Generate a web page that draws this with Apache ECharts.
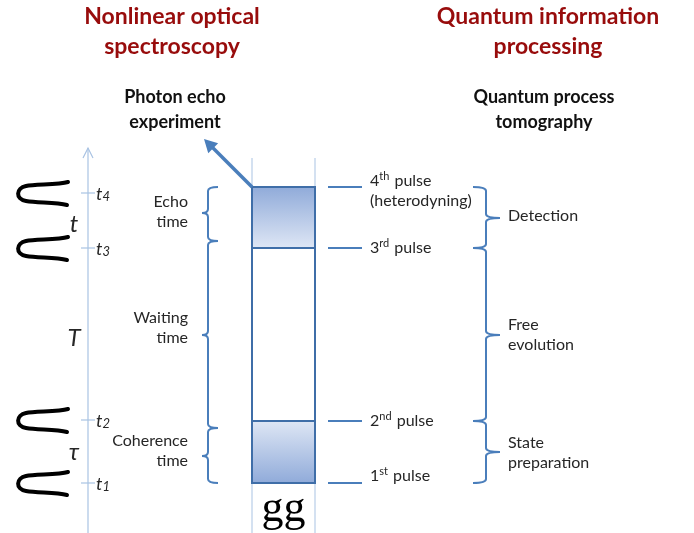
<!DOCTYPE html>
<html>
<head>
<meta charset="utf-8">
<script src="https://cdn.jsdelivr.net/npm/echarts@6/dist/echarts.min.js"></script>
<style>
  html, body { margin: 0; padding: 0; background: #fff; }
  #chart { width: 694px; height: 533px; }
</style>
</head>
<body>
<div id="chart"></div>
<script>
// diagram coordinates: x across the page, y = time running downwards
const pulseTimes = [483, 421, 248, 187];
const pulseLabels = ['1{sup|st} pulse', '2{sup|nd} pulse', '3{sup|rd} pulse', '4{sup|th} pulse\n(heterodyning)'];
const pulseLabelTimes = [476, 421, 248, 191];

// marks on the time axis
const markTimes = [483, 420, 248, 193];
const markLabels = ['t{sub|1}', 't{sub|2}', 't{sub|3}', 't{sub|4}'];

// delays between pulses
const delaySymbols = ['τ', 'T', 't'];
const delayTimes = [452, 338, 224];

// spectroscopy side braces
const echoFrom = [483, 428, 241];
const echoTo = [428, 241, 187];
const echoMid = [456, 335, 213];
const echoNames = ['Coherence\ntime', 'Waiting\ntime', 'Echo\ntime'];
const echoNameTimes = [451, 328, 212];

// quantum information side braces
const qipFrom = [483, 421, 248];
const qipTo = [421, 248, 187];
const qipMid = [452, 335, 218];
const qipNames = ['State\npreparation', 'Free\nevolution', 'Detection'];
const qipNameTimes = [453, 335, 216];

// shaded blocks of the sample column
const blockFrom = [421, 187];
const blockTo = [483, 248];

// headings
const headings = ['Nonlinear optical\nspectroscopy', 'Quantum information\nprocessing'];
const subHeadings = ['Photon echo\nexperiment', 'Quantum process\ntomography'];

const BLUE = '#4a7ebb';
const LIGHT = '#a9c3e3';
const SANS = 'Lato, "Open Sans", sans-serif';
const TXT = '#262626';

function bracePath(api, x, yA, yB, yM, dir, arm, tip) {
  const t = api.coord([x, Math.min(yA, yB)]);
  const b = api.coord([x, Math.max(yA, yB)]);
  const m = api.coord([x, yM]);
  const px = t[0], y1 = t[1], y2 = b[1], ym = m[1], r = 4;
  return 'M' + (px + dir * arm) + ',' + y1 + ' Q' + px + ',' + y1 + ' ' + px + ',' + (y1 + r) +
    ' L' + px + ',' + (ym - r) + ' Q' + px + ',' + ym + ' ' + (px - dir * tip) + ',' + ym +
    ' Q' + px + ',' + ym + ' ' + px + ',' + (ym + r) + ' L' + px + ',' + (y2 - r) +
    ' Q' + px + ',' + y2 + ' ' + (px + dir * arm) + ',' + y2;
}

function bodyText(p, text, align, extra) {
  return {
    type: 'text', x: p[0], y: p[1],
    style: Object.assign({
      text: text, fill: TXT, fontSize: 16, fontFamily: SANS, lineHeight: 20,
      align: align, verticalAlign: 'middle'
    }, extra || {})
  };
}

function headingText(x, y, text, size, color, lh) {
  return {
    type: 'text', x: x, y: y,
    style: { text: text, align: 'center', verticalAlign: 'middle', fill: color, fontSize: size, fontWeight: 'bold', fontFamily: SANS, lineHeight: lh }
  };
}

const chart = echarts.init(document.getElementById('chart'));

const option = {
  backgroundColor: '#fff',
  animation: false,
  grid: { left: 0, right: 0, top: 0, bottom: 0 },
  xAxis: { type: 'value', min: 0, max: 694, show: false },
  yAxis: { type: 'value', min: 0, max: 533, inverse: true, show: false },
  graphic: [
    headingText(172, 32, headings[0], 23, '#980c0c', 30),
    headingText(548, 32, headings[1], 23, '#980c0c', 30),
    headingText(175, 110, subHeadings[0], 18, '#111', 25),
    headingText(544, 110, subHeadings[1], 18, '#111', 25)
  ],
  series: [
    {
      // time axis with arrow
      type: 'custom', name: 'timeAxis', silent: true,
      data: [[88, 148]],
      renderItem: function (params, api) {
        const top = api.coord([api.value(0), api.value(1)]);
        const bot = api.coord([api.value(0), 533]);
        return {
          type: 'group', children: [
            { type: 'line', shape: { x1: top[0], y1: top[1], x2: bot[0], y2: bot[1] }, style: { stroke: LIGHT, lineWidth: 1.2 } },
            { type: 'polyline', shape: { points: [[top[0] - 5, top[1] + 10], top, [top[0] + 5, top[1] + 10]] }, style: { stroke: LIGHT, lineWidth: 1.2, fill: null } }
          ]
        };
      }
    },
    {
      // time marks, pulse glyphs
      type: 'custom', name: 'marks', silent: true,
      data: markTimes.map(function (t, i) { return [i, t]; }),
      renderItem: function (params, api) {
        const i = params.dataIndex;
        const p = api.coord([88, api.value(1)]);
        const y = p[1];
        const glyph = 'M68,' + (y - 11) + ' C58,' + (y - 8) + ' 35,' + (y - 9) + ' 26,' + (y - 7) +
          ' C16,' + (y - 5) + ' 15,' + (y + 6) + ' 26,' + (y + 8) +
          ' C38,' + (y + 10) + ' 56,' + (y + 9) + ' 67,' + (y + 12);
        return {
          type: 'group', children: [
            { type: 'line', shape: { x1: p[0] - 7, y1: y, x2: p[0] + 7, y2: y }, style: { stroke: LIGHT, lineWidth: 1.2 } },
            { type: 'path', shape: { pathData: glyph }, style: { fill: null, stroke: '#000', lineWidth: 4, lineCap: 'round' } },
            {
              type: 'text', x: p[0] + 8, y: y + 1,
              style: {
                text: markLabels[i], fill: TXT, fontSize: 18, fontStyle: 'italic', fontFamily: SANS,
                align: 'left', verticalAlign: 'middle',
                rich: { sub: { fontSize: 13, fontStyle: 'italic', fontFamily: SANS, fill: TXT, verticalAlign: 'bottom', padding: [6, 0, 0, 0] } }
              }
            }
          ]
        };
      }
    },
    {
      // delay symbols
      type: 'custom', name: 'delays', silent: true,
      data: delayTimes.map(function (t, i) { return [i, t]; }),
      renderItem: function (params, api) {
        const p = api.coord([74, api.value(1)]);
        return { type: 'text', x: p[0], y: p[1], style: { text: delaySymbols[params.dataIndex], fill: TXT, fontSize: 24, fontStyle: 'italic', fontFamily: SANS, align: 'center', verticalAlign: 'middle' } };
      }
    },
    {
      // spectroscopy braces
      type: 'custom', name: 'echo', silent: true,
      data: echoFrom.map(function (f, i) { return [f, echoTo[i], echoMid[i]]; }),
      renderItem: function (params, api) {
        const i = params.dataIndex;
        return {
          type: 'group', children: [
            { type: 'path', shape: { pathData: bracePath(api, 208, api.value(0), api.value(1), api.value(2), 1, 10, 6) }, style: { fill: null, stroke: BLUE, lineWidth: 2 } },
            bodyText(api.coord([188, echoNameTimes[i]]), echoNames[i], 'right')
          ]
        };
      }
    },
    {
      // quantum information braces
      type: 'custom', name: 'qip', silent: true,
      data: qipFrom.map(function (f, i) { return [f, qipTo[i], qipMid[i]]; }),
      renderItem: function (params, api) {
        const i = params.dataIndex;
        return {
          type: 'group', children: [
            { type: 'path', shape: { pathData: bracePath(api, 486, api.value(0), api.value(1), api.value(2), -1, 13, 14) }, style: { fill: null, stroke: BLUE, lineWidth: 2 } },
            bodyText(api.coord([508, qipNameTimes[i]]), qipNames[i], 'left')
          ]
        };
      }
    },
    {
      // sample column with shaded blocks
      type: 'custom', name: 'column', silent: true,
      data: [[blockFrom[1], blockTo[0]]],
      renderItem: function (params, api) {
        const tl = api.coord([252, api.value(0)]);
        const br = api.coord([315, api.value(1)]);
        const topLine = api.coord([252, 158]);
        const bottom = api.coord([252, 533]);
        const children = [
          { type: 'line', shape: { x1: tl[0], y1: topLine[1], x2: tl[0], y2: bottom[1] }, style: { stroke: LIGHT, lineWidth: 1 } },
          { type: 'line', shape: { x1: br[0], y1: topLine[1], x2: br[0], y2: bottom[1] }, style: { stroke: LIGHT, lineWidth: 1 } }
        ];
        blockFrom.forEach(function (f, i) {
          const a = api.coord([252, Math.min(f, blockTo[i])]);
          const b = api.coord([315, Math.max(f, blockTo[i])]);
          const darkTop = i === 1;
          children.push({
            type: 'rect', shape: { x: a[0], y: a[1], width: b[0] - a[0], height: b[1] - a[1] },
            style: {
              fill: new echarts.graphic.LinearGradient(0, 0, 0, 1, [
                { offset: 0, color: darkTop ? '#8faad9' : '#dfe7f5' },
                { offset: 1, color: darkTop ? '#dfe7f5' : '#8faad9' }
              ]),
              stroke: '#3f6ea8', lineWidth: 2
            }
          });
        });
        children.push({ type: 'rect', shape: { x: tl[0], y: tl[1], width: br[0] - tl[0], height: br[1] - tl[1] }, style: { fill: null, stroke: '#3f6ea8', lineWidth: 2 } });
        // arrow to the photon echo experiment
        const tip = api.coord([204, 139]);
        const dx = tip[0] - tl[0], dy = tip[1] - tl[1];
        const len = Math.sqrt(dx * dx + dy * dy), ux = dx / len, uy = dy / len;
        const hx = tip[0] - ux * 13, hy = tip[1] - uy * 13;
        children.push({ type: 'line', shape: { x1: tl[0], y1: tl[1], x2: hx + ux * 2, y2: hy + uy * 2 }, style: { stroke: BLUE, lineWidth: 3.5 } });
        children.push({ type: 'polygon', shape: { points: [tip, [hx - uy * 7, hy + ux * 7], [hx + uy * 7, hy - ux * 7]] }, style: { fill: BLUE } });
        children.push({ type: 'text', x: (tl[0] + br[0]) / 2, y: br[1] + 26, style: { text: 'gg', fill: '#000', fontSize: 44, fontFamily: '"Liberation Serif", serif', align: 'center', verticalAlign: 'middle' } });
        return { type: 'group', children: children };
      }
    },
    {
      // pulse lines and labels
      type: 'custom', name: 'pulses', silent: true,
      data: pulseTimes.map(function (t, i) { return [i, t]; }),
      renderItem: function (params, api) {
        const i = params.dataIndex;
        const a = api.coord([328, api.value(1)]);
        const b = api.coord([362, api.value(1)]);
        const l = api.coord([370, pulseLabelTimes[i]]);
        return {
          type: 'group', children: [
            { type: 'line', shape: { x1: a[0], y1: a[1], x2: b[0], y2: b[1] }, style: { stroke: BLUE, lineWidth: 2 } },
            bodyText(l, pulseLabels[i], 'left', {
              rich: { sup: { fontSize: 11, fontFamily: SANS, fill: TXT, verticalAlign: 'top', lineHeight: 20, padding: [0, 1, 6, 0] } }
            })
          ]
        };
      }
    }
  ]
};

chart.setOption(option);
</script>
</body>
</html>
